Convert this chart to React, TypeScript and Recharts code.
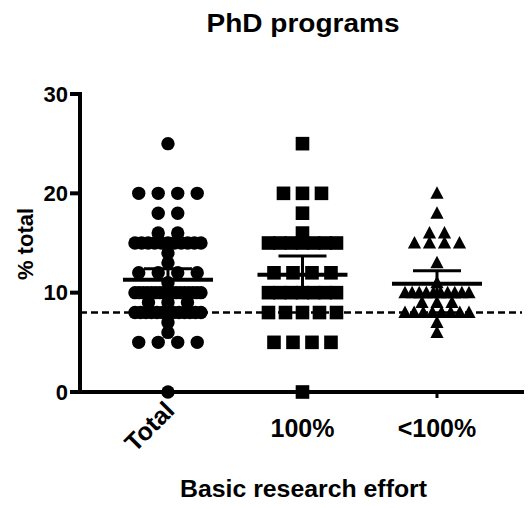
import React from 'react';
import { ScatterChart, Scatter, XAxis, YAxis, ReferenceLine, ErrorBar } from 'recharts';

// ---- data ----
const categories = ['Total', '100%', '<100%'];
const totalValues = [
  25,
  20, 20, 20, 20,
  18, 18,
  16, 16,
  15, 15, 15, 15, 15, 15, 15, 15, 15, 15, 15,
  14,
  13,
  12, 12, 12, 12,
  11,
  10, 10, 10, 10, 10, 10, 10, 10, 10, 10, 10, 10, 10, 10, 10, 10, 10,
  9, 9, 9,
  8, 8, 8, 8, 8, 8, 8, 8, 8, 8, 8, 8, 8,
  7,
  6,
  5, 5, 5, 5,
  0,
];
const fullValues = [
  25,
  20, 20, 20,
  18,
  16,
  15, 15, 15, 15, 15, 15, 15,
  12, 12, 12, 12,
  10, 10, 10, 10, 10, 10, 10,
  8, 8, 8, 8, 8,
  5, 5, 5, 5,
  0,
];
const partialValues = [
  20,
  18,
  16, 16,
  15, 15, 15, 15,
  13,
  11,
  10, 10, 10, 10, 10, 10, 10, 10, 10, 10,
  9, 9, 9,
  8, 8, 8, 8, 8, 8, 8, 8,
  7,
  6,
];
const groupMeans = [11.3, 11.8, 10.9];
const groupCI = [1.1, 1.9, 1.3];
const referenceValue = 8;
const yTicks = [0, 10, 20, 30];
const xTicks = [1, 2, 3];

// ---- layout ----
const W = 528;
const H = 508;
const MARGIN = { top: 94, right: 6, bottom: 0, left: 0 };
const Y_AXIS_W = 80;
const X_DOMAIN: [number, number] = [0.346, 3.632];
const PLOT_W = W - MARGIN.left - MARGIN.right - Y_AXIS_W;
const PX_PER_UNIT = PLOT_W / (X_DOMAIN[1] - X_DOMAIN[0]);
const FONT = "'Liberation Sans', Arial, Helvetica, sans-serif";

function spread(values: number[], groupX: number, maxStepPx: number, maxSpanPx: number) {
  const counts = new Map<number, number>();
  values.forEach((v) => counts.set(v, (counts.get(v) || 0) + 1));
  const seen = new Map<number, number>();
  return values.map((v) => {
    const n = counts.get(v) as number;
    const i = seen.get(v) || 0;
    seen.set(v, i + 1);
    const step = n > 1 ? Math.min(maxStepPx, maxSpanPx / (n - 1)) : 0;
    const offPx = (i - (n - 1) / 2) * step;
    return { x: groupX + offPx / PX_PER_UNIT, y: v };
  });
}

const totalData = spread(totalValues, 1, 19.5, 66);
const fullData = spread(fullValues, 2, 19, 68);
const partialData = spread(partialValues, 3, 15, 64);
const meanData = groupMeans.map((m, i) => ({ x: xTicks[i], y: m, ci: groupCI[i] }));

const CircleShape = (p: any) => <circle cx={p.cx} cy={p.cy} r={6.7} fill="#000" />;
const SquareShape = (p: any) => (
  <rect x={p.cx - 6.8} y={p.cy - 6.8} width={13.6} height={13.6} fill="#000" />
);
const TriangleShape = (p: any) => (
  <polygon
    points={`${p.cx},${p.cy - 7} ${p.cx + 6.6},${p.cy + 5.5} ${p.cx - 6.6},${p.cy + 5.5}`}
    fill="#000"
  />
);
const MeanShape = (p: any) => (
  <line x1={p.cx - 45} x2={p.cx + 45} y1={p.cy} y2={p.cy} stroke="#000" strokeWidth={4} />
);

const XTick = (props: any) => {
  const { x, y, payload } = props;
  const label = categories[Math.round(payload.value) - 1];
  const style = { fontFamily: FONT, fontWeight: 'bold' as const, fontSize: 25, fill: '#000' };
  if (label === 'Total') {
    const ax = x + 8;
    const ay = y + 12;
    return (
      <text x={ax} y={ay} transform={`rotate(-45, ${ax}, ${ay})`} textAnchor="end" {...style}>
        {label}
      </text>
    );
  }
  return (
    <text x={x} y={y + 37} textAnchor="middle" {...style}>
      {label}
    </text>
  );
};

export default function App() {
  return (
    <div style={{ position: 'absolute', left: 0, top: 0, width: W, height: H, background: '#fff' }}>
      <ScatterChart width={W} height={H} margin={MARGIN}>
        <XAxis
          type="number"
          dataKey="x"
          domain={X_DOMAIN}
          ticks={xTicks}
          allowDataOverflow
          interval={0}
          height={H - MARGIN.top - 298}
          tickSize={6}
          tickLine={{ stroke: '#000', strokeWidth: 3 }}
          axisLine={{ stroke: '#000', strokeWidth: 4, strokeLinecap: 'square' }}
          tick={<XTick />}
        />
        <YAxis
          type="number"
          dataKey="y"
          domain={[0, 30]}
          ticks={yTicks}
          width={Y_AXIS_W}
          tickSize={10}
          tickMargin={2}
          tickLine={{ stroke: '#000', strokeWidth: 4 }}
          axisLine={{ stroke: '#000', strokeWidth: 4, strokeLinecap: 'square' }}
          tick={{ fontFamily: FONT, fontWeight: 'bold', fontSize: 22, fill: '#000' }}
        />
        <ReferenceLine
          y={referenceValue}
          stroke="#000"
          strokeWidth={2.5}
          strokeDasharray="7 4"
        />
        <Scatter data={totalData} shape={CircleShape} isAnimationActive={false} />
        <Scatter data={fullData} shape={SquareShape} isAnimationActive={false} />
        <Scatter data={partialData} shape={TriangleShape} isAnimationActive={false} />
        <Scatter data={meanData} shape={MeanShape} isAnimationActive={false}>
          <ErrorBar dataKey="ci" direction="y" width={24} strokeWidth={3} stroke="#000" isAnimationActive={false} />
        </Scatter>
      </ScatterChart>
      <svg
        width={W}
        height={H}
        style={{ position: 'absolute', left: 0, top: 0, pointerEvents: 'none' }}
      >
        <text
          x={303}
          y={32}
          textAnchor="middle"
          fontFamily={FONT}
          fontWeight="bold"
          fontSize={25.5}
          textLength={193}
          lengthAdjust="spacingAndGlyphs"
          fill="#000"
        >
          PhD programs
        </text>
        <text
          x={303.5}
          y={497}
          textAnchor="middle"
          fontFamily={FONT}
          fontWeight="bold"
          fontSize={23.3}
          textLength={247}
          lengthAdjust="spacingAndGlyphs"
          fill="#000"
        >
          Basic research effort
        </text>
        <text
          x={33}
          y={244}
          textAnchor="middle"
          transform="rotate(-90, 33, 244)"
          fontFamily={FONT}
          fontWeight="bold"
          fontSize={22}
          fill="#000"
        >
          % total
        </text>
      </svg>
    </div>
  );
}
